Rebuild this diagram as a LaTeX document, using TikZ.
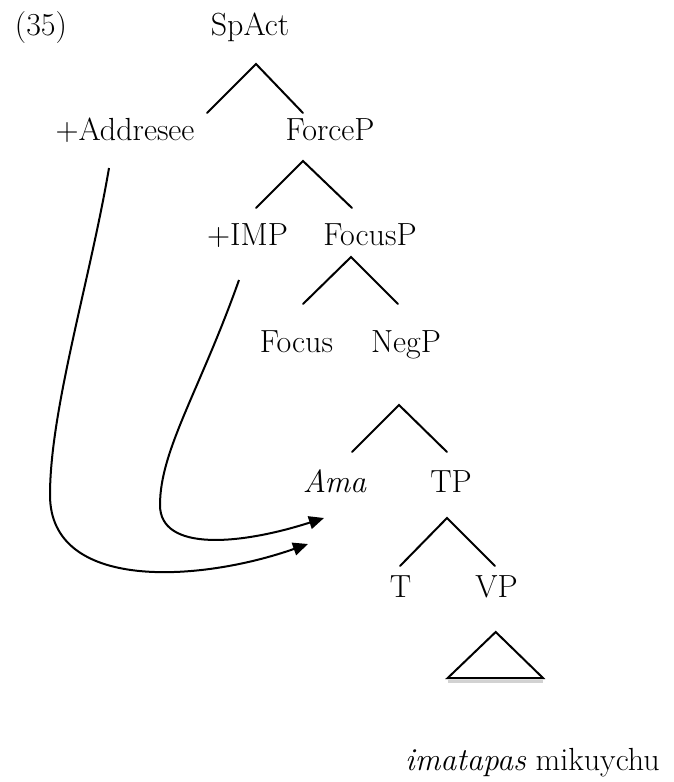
\documentclass[tikz,border=0pt]{standalone}
\usetikzlibrary{arrows.meta}
\begin{document}
\begin{tikzpicture}[x=1pt,y=-1pt,
  lab/.style={anchor=base,inner sep=0pt,font=\fontsize{32}{38}\selectfont},
  branch/.style={line width=2pt,line cap=round,line join=miter},
  move/.style={line width=2pt,-{Triangle[length=15pt,width=13pt]}}]
\useasboundingbox (0,0) rectangle (673,782);
% labels
\node[lab] (ex) at (41,35) {(35)};
\node[lab] (spact) at (250,35) {SpAct};
\node[lab] (addr) at (125,140) {+Addresee};
\node[lab] (force) at (330,140) {ForceP};
\node[lab] (imp) at (247.5,245) {+IMP};
\node[lab] (focusp) at (370,245) {FocusP};
\node[lab] (focus) at (296.5,352) {Focus};
\node[lab] (negp) at (406,352) {NegP};
\node[lab] (ama) at (334.5,492) {\itshape Ama};
\node[lab] (tp) at (451,492) {TP};
\node[lab] (t) at (400.5,597) {T};
\node[lab] (vp) at (496.5,597) {VP};
\node[lab] (words) at (532.5,770) {\itshape imatapas\upshape\ mikuychu};
% branch points
\coordinate (a1) at (256,64);  \coordinate (l1) at (207,113); \coordinate (r1) at (303,113);
\coordinate (a2) at (303,161); \coordinate (l2) at (256,208); \coordinate (r2) at (352,208);
\coordinate (a3) at (351,257); \coordinate (l3) at (303,304); \coordinate (r3) at (398,304);
\coordinate (a4) at (399,405); \coordinate (l4) at (352,452); \coordinate (r4) at (447,452);
\coordinate (a5) at (447,518); \coordinate (l5) at (400,566); \coordinate (r5) at (495,566);
\coordinate (ta) at (495.7,632); \coordinate (tl) at (447.7,678); \coordinate (tr) at (543,678);
\draw[branch] (l1) -- (a1) -- (r1);
\draw[branch] (l2) -- (a2) -- (r2);
\draw[branch] (l3) -- (a3) -- (r3);
\draw[branch] (l4) -- (a4) -- (r4);
\draw[branch] (l5) -- (a5) -- (r5);
% triangle with faint shadow
\draw[gray!35,line width=2.5pt] (448,681.5) -- (543,681.5);
\draw[branch,line join=miter] (ta) -- (tr) -- (tl) -- cycle;
% movement arrows
\coordinate (s1) at (109,168);
\coordinate (e1) at (308,544);
\coordinate (s2) at (239,280);
\coordinate (e2) at (324,518);
\draw[move] (s1) .. controls (90,280) and (50,410) .. (50,495)
  .. controls (50,592) and (200,582) .. (e1);
\draw[move] (s2) .. controls (200,390) and (160,450) .. (160,505)
  .. controls (160,552) and (240,545) .. (e2);
\end{tikzpicture}
\end{document}
